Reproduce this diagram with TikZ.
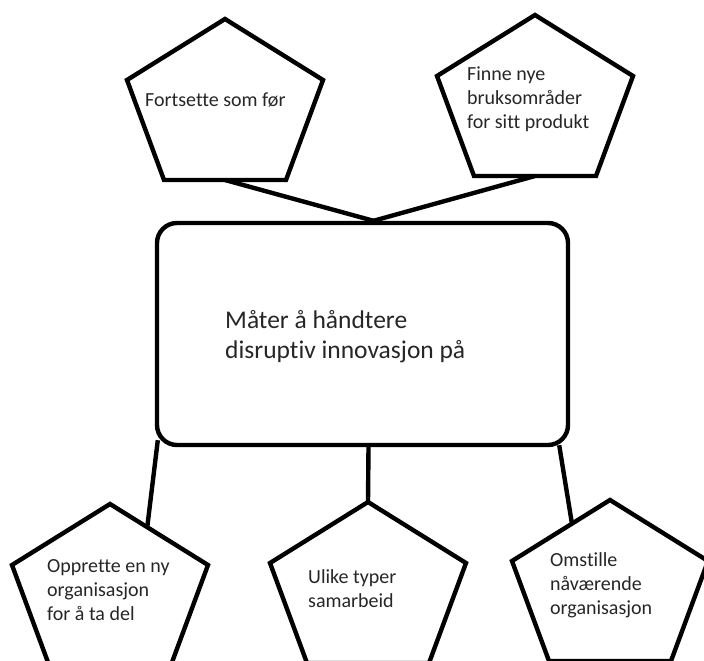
\documentclass[tikz,border=0pt]{standalone}
\usepackage{fontspec}
\setmainfont[Ligatures=NoCommon]{Carlito}
\begin{document}
\begin{tikzpicture}[x=1pt,y=-1pt,
	pent/.style={line width=4.4pt,line join=miter},
	link/.style={line width=4.4pt},
	hub/.style={draw,line width=4.4pt,rounded corners=20pt,minimum width=411pt,minimum height=222pt,inner sep=0pt},
	pentlabel/.style={anchor=west,align=left,inner sep=0pt,text=black!85,font=\fontsize{20}{24}\selectfont},
	hublabel/.style={anchor=west,align=left,inner sep=0pt,text=black!85,font=\fontsize{25.5}{30}\selectfont}]
	
	\useasboundingbox (0,0) rectangle (704,661);
	
	% central box
	\node[hub] (hub) at (362.5,334) {};
	\node[hublabel] (hubtext) at (225,337) {Måter å håndtere\\disruptiv innovasjon på};
	
	% pentagons on top
	\draw[pent] (225,19) -- ++(98,61) -- ++(-37,100) -- ++(-61,0) coordinate (fortBot)
				-- ++(-61,0) -- ++(-37,-100) --cycle;
	\draw[pent] (535,15) -- ++(98,61) -- ++(-37,100) -- ++(-61,0) coordinate (bruksBot)
				-- ++(-61,0) -- ++(-37,-100) --cycle;
	
	% pentagons below
	\draw[pent] (110,504) -- ++(98,61) coordinate[pos=0.38] (nyLink) -- ++(-37,100)
				-- ++(-122,0) -- ++(-37,-100) --cycle;
	\draw[pent] (368,502) coordinate (samTop) -- ++(98,61) -- ++(-37,100)
				-- ++(-122,0) -- ++(-37,-100) --cycle;
	\draw[pent] (610,500) -- ++(98,61) -- ++(-37,100)
				-- ++(-122,0) -- ++(-37,-100) -- cycle coordinate (omTop);
	\coordinate (omLink) at (572,524);
	
	% texts in the pentagons
	\node[pentlabel] (fort) at (145,100) {Fortsette som før};
	\node[pentlabel] (bruks) at (467,99) {Finne nye\\bruksområder\\for sitt produkt};
	\node[pentlabel] (ny) at (47,590) {Opprette en ny\\organisasjon\\for å ta del};
	\node[pentlabel] (sam) at (308,589) {Ulike typer\\samarbeid};
	\node[pentlabel] (om) at (550,585) {Omstille\\nåværende\\organisasjon};
	
	% connectors
	\draw[link] (fortBot) -- ([xshift=11pt]hub.north);
	\draw[link] (bruksBot) -- ([xshift=11pt]hub.north);
	\draw[link] (nyLink) -- ([shift={(3pt,7pt)}]hub.south west);
	\draw[link] ([xshift=6pt]hub.south) -- (samTop);
	\draw[link] (omLink) -- ([shift={(-11pt,2pt)}]hub.south east);
	
\end{tikzpicture}
\end{document}
